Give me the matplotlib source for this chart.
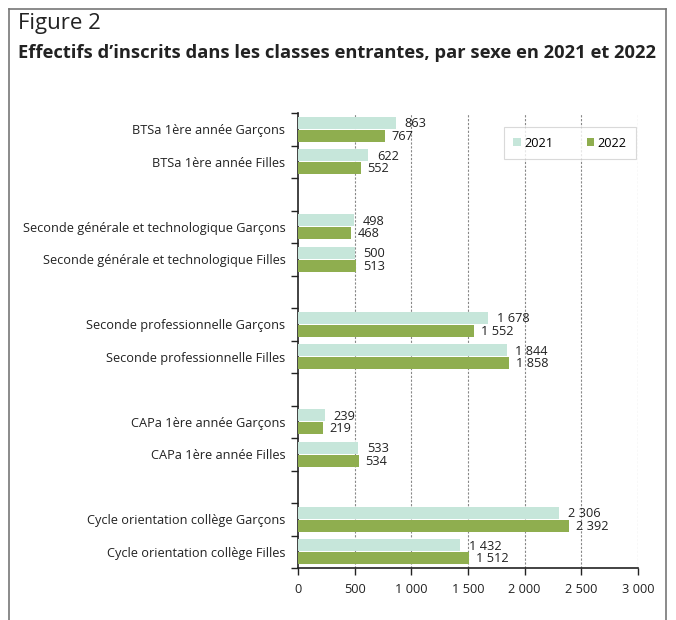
import matplotlib
matplotlib.use("Agg")
import matplotlib.pyplot as plt
from matplotlib.lines import Line2D
from matplotlib.patches import Patch

plt.rcParams['font.family'] = ['Open Sans', 'DejaVu Sans']

categories = [
    "BTSa 1ère année Garçons",
    "BTSa 1ère année Filles",
    "",
    "Seconde générale et technologique Garçons",
    "Seconde générale et technologique Filles",
    "",
    "Seconde professionnelle Garçons",
    "Seconde professionnelle Filles",
    "",
    "CAPa 1ère année Garçons",
    "CAPa 1ère année Filles",
    "",
    "Cycle orientation collège Garçons",
    "Cycle orientation collège Filles",
]
values_2021 = [863, 622, None, 498, 500, None, 1678, 1844, None, 239, 533, None, 2306, 1432]
values_2022 = [767, 552, None, 468, 513, None, 1552, 1858, None, 219, 534, None, 2392, 1512]
series_names = ["2021", "2022"]
xticks = [0, 500, 1000, 1500, 2000, 2500, 3000]

color_2021 = "#c6e6da"
color_2022 = "#8fae4f"

def fmt(v):
    return f"{v:,}".replace(",", " ")

W, H = 676, 620
fig = plt.figure(figsize=(W / 100, H / 100), dpi=100)
ax = fig.add_axes([298 / W, 1 - 568 / H, 340 / W, 455 / H])

n = len(categories)
bh = 0.37
fs = 9.2
for i, (a, b) in enumerate(zip(values_2021, values_2022)):
    if a is not None:
        ax.barh(i - 0.195, a, height=bh, color=color_2021, zorder=3)
        ax.annotate(fmt(a), (a, i - 0.17), xytext=(6, 0), textcoords="offset points",
                    va="center", ha="left", fontsize=fs, color="#222222", zorder=4)
    if b is not None:
        ax.barh(i + 0.195, b, height=bh, color=color_2022, zorder=3)
        ax.annotate(fmt(b), (b, i + 0.22), xytext=(5, 0), textcoords="offset points",
                    va="center", ha="left", fontsize=fs, color="#222222", zorder=4)

ax.set_ylim(n - 0.5, -0.5)
ax.set_xlim(0, 3000)

ax.set_yticks([k - 0.5 for k in range(n + 1)])
ax.set_yticklabels([])
ax.set_yticks(range(n), minor=True)
ax.set_yticklabels(categories, minor=True, fontsize=fs, color="#222222")
ax.tick_params(axis="y", which="major", length=5, width=1, direction="out", color="#222222")
ax.tick_params(axis="y", which="minor", length=0, pad=9)

ax.set_xticks(xticks)
ax.set_xticklabels([fmt(t) for t in xticks], fontsize=fs, color="#222222")
ax.tick_params(axis="x", length=5, width=1, direction="out", color="#222222", pad=6)

for s in ["top", "right"]:
    ax.spines[s].set_visible(False)
for s in ["left", "bottom"]:
    ax.spines[s].set_color("#222222")
    ax.spines[s].set_linewidth(1.2)

for t in xticks[1:]:
    ax.axvline(t, color="#888888", linestyle=(0, (2, 1.5)), linewidth=0.8, zorder=1)

handles = [Patch(facecolor=color_2021, edgecolor="none"),
           Patch(facecolor=color_2022, edgecolor="none")]
leg = ax.legend(handles, series_names, loc="upper right", bbox_to_anchor=(0.994, 0.969),
                ncol=2, frameon=True, fancybox=False, fontsize=fs, handlelength=0.6,
                handleheight=0.6, columnspacing=2.6, handletextpad=0.25,
                borderpad=0.75, borderaxespad=0)
leg.get_frame().set_edgecolor("#d0d0d0")
leg.get_frame().set_linewidth(0.8)
leg._legend_box.align = "center"

fc = "#777777"
fig.add_artist(Line2D([9 / W, 9 / W], [0, 1 - 9 / H], color=fc, lw=1.2, transform=fig.transFigure))
fig.add_artist(Line2D([666 / W, 666 / W], [0, 1 - 9 / H], color=fc, lw=1.2, transform=fig.transFigure))
fig.add_artist(Line2D([9 / W, 666 / W], [1 - 9 / H, 1 - 9 / H], color=fc, lw=1.2, transform=fig.transFigure))

fig.text(18 / W, 1 - 24 / H, "Figure 2", fontsize=16, color="#222222", va="center", ha="left")
fig.text(18 / W, 1 - 53 / H, "Effectifs d’inscrits dans les classes entrantes, par sexe en 2021 et 2022",
         fontsize=13.2, fontweight="bold", color="#222222", va="center", ha="left")

fig.savefig("out.png", dpi=100)
